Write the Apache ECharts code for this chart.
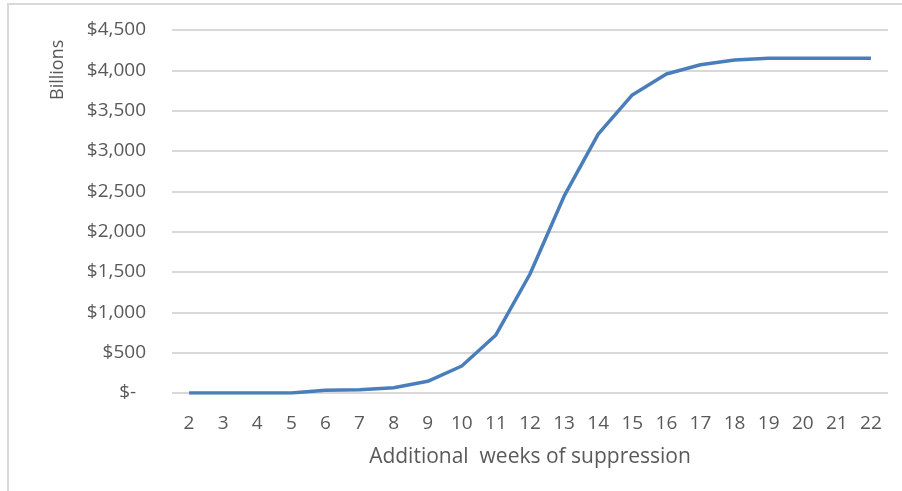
<!DOCTYPE html>
<html><head><meta charset="utf-8">
<script src="https://cdn.jsdelivr.net/npm/echarts@6/dist/echarts.min.js"></script>
<style>html,body{margin:0;padding:0;background:#fff}#c{width:902px;height:491px}</style>
</head><body><div id="c"></div>
<script>
const weeks = ['2','3','4','5','6','7','8','9','10','11','12','13','14','15','16','17','18','19','20','21','22'];
const costBillions = [0,0,0,0,35,40,65,145,335,720,1475,2440,3210,3695,3955,4070,4128,4150,4150,4150,4150];
const yTicks = [0,500,1000,1500,2000,2500,3000,3500,4000,4500];

const chart = echarts.init(document.getElementById('c'));
const font = '"Open Sans", sans-serif';
chart.setOption({
  animation: false,
  graphic: [
    {type:'rect', shape:{x:8,y:4,width:1000,height:1000}, style:{fill:'none', stroke:'#d9d9d9', lineWidth:2}, silent:true},
    {type:'text', x:49, y:100, rotation:Math.PI/2, style:{text:'Billions', fill:'#595959', font:'18px "Open Sans", sans-serif', textAlign:'left', textVerticalAlign:'top'}}
  ],
  grid: {left:172, right:14, top:30, bottom:98},
  xAxis: {
    type:'category', data:weeks, boundaryGap:true,
    axisLine:{show:false}, axisTick:{show:false},
    axisLabel:{color:'#595959', fontFamily:font, fontSize:19, margin:21},
    name:'Additional  weeks of suppression', nameLocation:'middle', nameGap:54,
    nameTextStyle:{color:'#595959', fontFamily:font, fontSize:21}
  },
  yAxis: {
    type:'value', min:yTicks[0], max:yTicks[yTicks.length-1], interval:500,
    axisLine:{show:false}, axisTick:{show:false},
    splitLine:{lineStyle:{color:'#d9d9d9', width:2}},
    axisLabel:{color:'#595959', fontFamily:font, fontSize:19, margin:26,
      formatter: v => v === 0 ? '$-  ' : '$' + v.toLocaleString('en-US')}
  },
  series: [{type:'line', data:costBillions, symbol:'none',
    lineStyle:{color:'#4a7ebb', width:3.5}}]
});
</script></body></html>
